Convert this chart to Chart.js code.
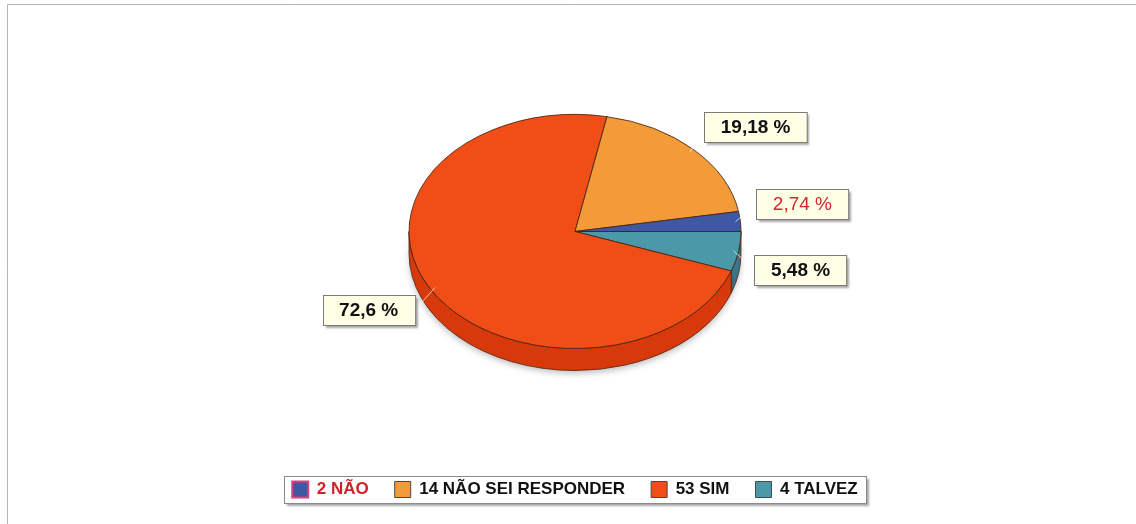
<!DOCTYPE html>
<html>
<head>
<meta charset="utf-8">
<script src="https://cdn.jsdelivr.net/npm/chart.js@4/dist/chart.umd.min.js"></script>
<style>
	body { margin: 0; background: #fff; }
	canvas { display: block; }
</style>
</head>
<body>
<canvas id="chart-pie" width="1136" height="524"></canvas>
<script>
var categories = ["NÃO", "NÃO SEI RESPONDER", "SIM", "TALVEZ"];
var counts = [2, 14, 53, 4];
var topColors = ["#3f58a4", "#f29b38", "#f04e16", "#4a98a8"];
var sideColors = ["#2c3f7a", "#cf7a22", "#d8390a", "#35798a"];
var labelTextColors = ["#d0262c", "#111111", "#111111", "#111111"];
var labelWeights = ["normal", "bold", "bold", "bold"];
var legendTextColors = ["#d0202a", "#111111", "#111111", "#111111"];
var legendBorders = ["#e0407a", "#4a4a4a", "#4a4a4a", "#4a4a4a"];

var TILT = 0.705;
var DEPTH = 22;
var FONT = "'Liberation Sans', Arial, sans-serif";

// The reference goes counter-clockwise from 3 o'clock, Chart.js goes clockwise,
// so the slices are fed in reverse order
var order = [];
for (var i = categories.length - 1; i >= 0; --i) {
	order.push(i);
}

var total = 0;
for (var i = 0; i < counts.length; ++i) {
	total += counts[i];
}

function pctText(value) {
	var p = Math.round(value / total * 10000) / 100;
	return String(p).replace(".", ",") + " %";
}

var ellipsePlugin = {
	id: "ellipse",
	beforeDatasetsDraw: function(chart) {
		var arcs = chart.getDatasetMeta(0).data;
		var ctx = chart.ctx;
		var cx = arcs[0].x;
		var cy = arcs[0].y;
		ctx.save();
		ctx.translate(cx, cy);
		ctx.scale(1, TILT);
		ctx.translate(-cx, -cy);

		// side of the disc, only the front half shows
		var d = DEPTH / TILT;
		for (var i = 0; i < arcs.length; ++i) {
			var arc = arcs[i];
			var s = Math.max(arc.startAngle, 0);
			var e = Math.min(arc.endAngle, Math.PI);
			if (e <= s) {
				continue;
			}
			ctx.save();
			ctx.beginPath();
			ctx.arc(cx, cy, arc.outerRadius, s, e);
			ctx.arc(cx, cy + d, arc.outerRadius, e, s, true);
			ctx.closePath();
			ctx.shadowColor = "rgba(0,0,0,0.25)";
			ctx.shadowBlur = 6;
			ctx.shadowOffsetY = 3;
			ctx.fillStyle = sideColors[order[i]];
			ctx.fill();
			ctx.restore();
			ctx.lineWidth = 1;
			ctx.strokeStyle = "#5a2410";
			ctx.stroke();
		}
	},
	afterDatasetsDraw: function(chart) {
		chart.ctx.restore();
	}
};

var labelPlugin = {
	id: "boxLabels",
	beforeDraw: function(chart) {
		var ctx = chart.ctx;
		// frame of the original picture
		ctx.save();
		ctx.strokeStyle = "#b4b4b4";
		ctx.lineWidth = 1;
		ctx.beginPath();
		ctx.moveTo(7.5, 524);
		ctx.lineTo(7.5, 4.5);
		ctx.lineTo(1136, 4.5);
		ctx.stroke();

		// legend frame
		var boxes = chart.legend.legendHitBoxes;
		var l = Infinity, r = -Infinity, t = Infinity, b = -Infinity;
		for (var i = 0; i < boxes.length; ++i) {
			l = Math.min(l, boxes[i].left);
			r = Math.max(r, boxes[i].left + boxes[i].width);
			t = Math.min(t, boxes[i].top);
			b = Math.max(b, boxes[i].top + boxes[i].height);
		}
		l = Math.round(l - 8) + 0.5;
		r = Math.round(r + 8) + 0.5;
		t = Math.round(t - 5) + 0.5;
		b = Math.round(b + 5) + 0.5;
		ctx.shadowColor = "rgba(0,0,0,0.35)";
		ctx.shadowBlur = 2;
		ctx.shadowOffsetX = 2;
		ctx.shadowOffsetY = 2;
		ctx.fillStyle = "#ffffff";
		ctx.fillRect(l, t, r - l, b - t);
		ctx.shadowColor = "transparent";
		ctx.strokeStyle = "#8a8a8a";
		ctx.strokeRect(l, t, r - l, b - t);
		ctx.restore();
	},
	afterDraw: function(chart) {
		var arcs = chart.getDatasetMeta(0).data;
		var ctx = chart.ctx;
		ctx.save();
		for (var i = 0; i < arcs.length; ++i) {
			var arc = arcs[i];
			var k = order[i];
			var mid = (arc.startAngle + arc.endAngle) / 2;
			var c = Math.cos(mid);
			var s = Math.sin(mid);
			var R = arc.outerRadius;
			var ex = arc.x + c * R;
			var ey = arc.y + s * R * TILT;
			var lx = ex + (c < 0 ? -62 : 62);
			var ly = ey + (s < 0 ? -17 : 17) + s * 8;

			var text = pctText(counts[k]);
			ctx.font = labelWeights[k] + " 19px " + FONT;
			var w = ctx.measureText(text).width + 33;
			var h = 30;

			// leader line
			ctx.strokeStyle = "rgba(255,255,255,0.7)";
			ctx.lineWidth = 1;
			ctx.beginPath();
			ctx.moveTo(arc.x + c * R * 0.97, arc.y + s * R * TILT * 0.97);
			ctx.lineTo(lx - (c < 0 ? -1 : 1) * w / 2, ly);
			ctx.stroke();

			var bx = Math.round(lx - w / 2) + 0.5;
			var by = Math.round(ly - h / 2) + 0.5;
			ctx.save();
			ctx.shadowColor = "rgba(0,0,0,0.35)";
			ctx.shadowBlur = 2;
			ctx.shadowOffsetX = 2;
			ctx.shadowOffsetY = 2;
			ctx.fillStyle = "#ffffe6";
			ctx.fillRect(bx, by, w, h);
			ctx.restore();
			ctx.strokeStyle = "#7a7a7a";
			ctx.strokeRect(bx, by, w, h);

			ctx.fillStyle = labelTextColors[k];
			ctx.textAlign = "center";
			ctx.textBaseline = "middle";
			ctx.fillText(text, lx, ly + 1);
		}
		ctx.restore();
	}
};

var ctx = document.getElementById("chart-pie").getContext("2d");

var chart = new Chart(ctx, {
	type: "pie",
	data: {
		labels: order.map(function(k) { return counts[k] + " " + categories[k]; }),
		datasets: [
			{
				data: order.map(function(k) { return counts[k]; }),
				backgroundColor: order.map(function(k) { return topColors[k]; }),
				borderColor: "#4a2214",
				borderWidth: 1,
				radius: 166
			}
		]
	},
	options: {
		responsive: false,
		animation: false,
		rotation: 90,
		layout: {
			padding: { left: 14, top: 8, right: 0, bottom: 16 }
		},
		plugins: {
			tooltip: { enabled: false },
			legend: {
				position: "bottom",
				labels: {
					boxWidth: 16,
					boxHeight: 16,
					padding: 26,
					font: { family: FONT, size: 17, weight: "bold" },
					generateLabels: function(chart) {
						var items = [];
						for (var k = 0; k < categories.length; ++k) {
							items.push({
								text: counts[k] + " " + categories[k],
								fillStyle: topColors[k],
								strokeStyle: legendBorders[k],
								fontColor: legendTextColors[k],
								lineWidth: k == 0 ? 2 : 1,
								hidden: false,
								index: order.indexOf(k)
							});
						}
						return items;
					}
				}
			}
		}
	},
	plugins: [ellipsePlugin, labelPlugin]
});
</script>
</body>
</html>
